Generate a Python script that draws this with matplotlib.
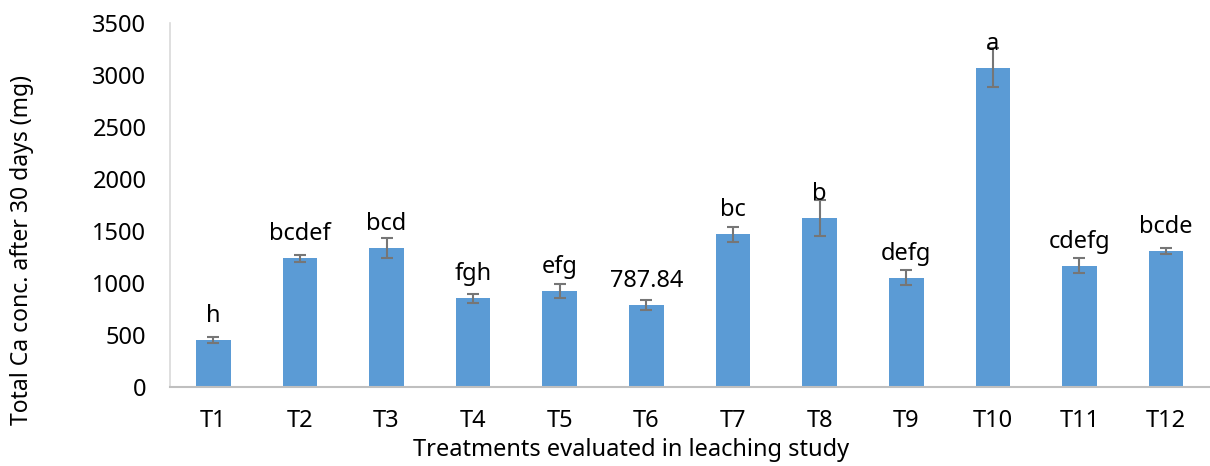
import matplotlib.pyplot as plt

# data
treatments = ['T1', 'T2', 'T3', 'T4', 'T5', 'T6', 'T7', 'T8', 'T9', 'T10', 'T11', 'T12']
ca_total = [450, 1236, 1333, 851, 925, 787.84, 1468, 1628, 1050, 3073, 1165, 1307]
ca_err = [29, 32, 96, 45, 69, 48, 75, 173, 72, 185, 72, 28]
sig_labels = ['h', 'bcdef', 'bcd', 'fgh', 'efg', '787.84', 'bc', 'b', 'defg', 'a', 'cdefg', 'bcde']

plt.rcParams['font.family'] = ['Noto Sans', 'DejaVu Sans']

fig = plt.figure(figsize=(12.1, 4.66), dpi=100)
ax = fig.add_axes([0.1405, 0.170, 0.859, 0.780])

x = range(len(treatments))
ax.bar(x, ca_total, width=0.4, color='#5B9BD5', zorder=2)
ax.errorbar(x, ca_total, yerr=ca_err, fmt='none', ecolor='#767676',
            elinewidth=1.5, capsize=4.2, capthick=1.5, zorder=3)

for i, (v, lab) in enumerate(zip(ca_total, sig_labels)):
    ax.annotate(lab, (i, v), xytext=(0, 13), textcoords='offset points',
                ha='center', va='baseline', fontsize=17, color='black')

ax.set_xlim(-0.5, len(treatments) - 0.5)
ax.set_ylim(0, 3500)
ax.set_yticks(range(0, 3501, 500))
ax.set_xticks(list(x))
ax.set_xticklabels(treatments)
ax.tick_params(axis='both', length=0, labelsize=17)
ax.tick_params(axis='y', pad=17)
ax.tick_params(axis='x', pad=16)

for s in ['top', 'right']:
    ax.spines[s].set_visible(False)
ax.spines['left'].set_color('#d9d9d9')
ax.spines['left'].set_linewidth(1.2)
ax.spines['bottom'].set_color('#bfbfbf')
ax.spines['bottom'].set_linewidth(1.5)

fig.text(631 / 1210, 1 - 450 / 466, 'Treatments evaluated in leaching study',
         ha='center', va='center', fontsize=17)
fig.text(21.7 / 1210, 1 - 250 / 466, 'Total Ca conc. after 30 days (mg)',
         ha='center', va='center', rotation=90, fontsize=16.5)

fig.savefig('out.png', dpi=100)
